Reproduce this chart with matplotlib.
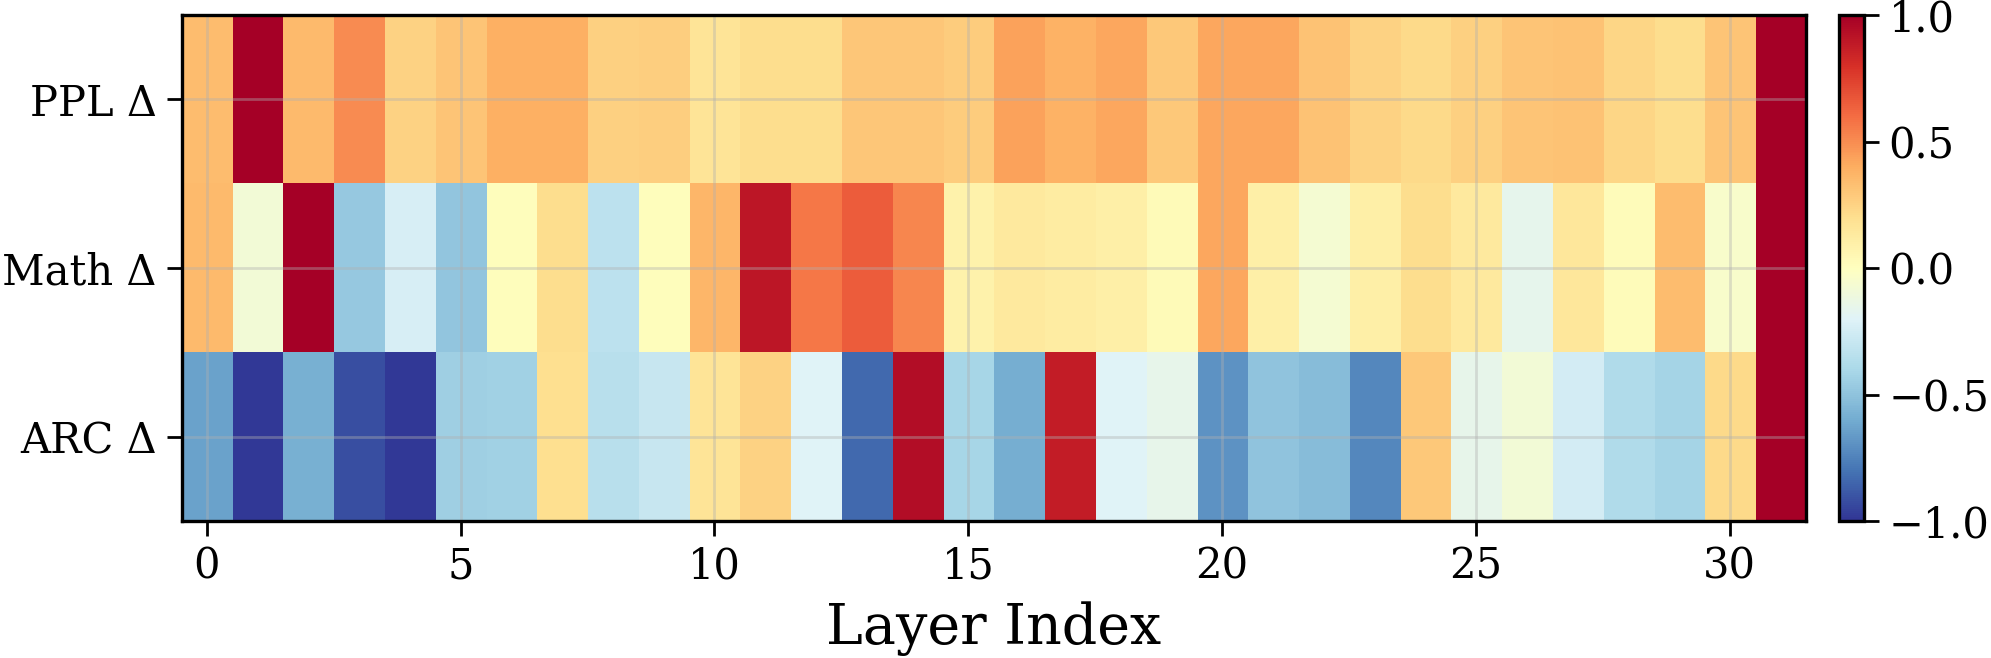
import matplotlib
matplotlib.use("Agg")
import matplotlib.pyplot as plt
import numpy as np

plt.rcParams['font.family'] = ['DejaVu Serif']
plt.rcParams['mathtext.fontset'] = 'dejavuserif'

row_labels = ["PPL Δ", "Math Δ", "ARC Δ"]
layers = list(range(32))

ppl_delta = [0.34, 1.0, 0.35, 0.50, 0.25, 0.31, 0.39, 0.39, 0.26, 0.27,
             0.17, 0.21, 0.21, 0.30, 0.30, 0.28, 0.43, 0.38, 0.42, 0.29,
             0.42, 0.42, 0.32, 0.25, 0.22, 0.26, 0.31, 0.32, 0.24, 0.21,
             0.31, 1.0]
math_delta = [0.35, -0.08, 1.0, -0.47, -0.23, -0.49, 0.01, 0.21, -0.33, 0.01,
              0.36, 0.90, 0.57, 0.65, 0.52, 0.08, 0.14, 0.12, 0.10, 0.03,
              0.42, 0.10, -0.07, 0.10, 0.21, 0.14, -0.16, 0.15, 0.02, 0.34,
              -0.045, 1.0]
arc_delta = [-0.64, -0.99, -0.58, -0.92, -0.99, -0.44, -0.43, 0.20, -0.35, -0.29,
             0.17, 0.25, -0.20, -0.83, 0.94, -0.41, -0.59, 0.88, -0.20, -0.15,
             -0.69, -0.50, -0.53, -0.73, 0.29, -0.15, -0.08, -0.25, -0.38, -0.42,
             0.22, 1.0]

data = np.array([ppl_delta, math_delta, arc_delta])

fig = plt.figure(figsize=(9.955, 3.29), dpi=200)
ax = fig.add_axes([0.0912, 0.208, 0.8157, 0.769])
cax = fig.add_axes([0.9237, 0.208, 0.0125, 0.769])

im = ax.imshow(data, cmap='RdYlBu_r', vmin=-1, vmax=1, aspect='auto',
               interpolation='nearest')
ax.set_yticks(range(len(row_labels)))
ax.set_yticklabels(row_labels)
ax.set_xticks(range(0, 32, 5))
ax.tick_params(axis='both', labelsize=15, length=5.4, width=1.0)
ax.set_xlabel("Layer Index", fontsize=20, labelpad=5)
ax.grid(True, color='#b0b0b0', alpha=0.4, linewidth=1.0)
for s in ax.spines.values():
    s.set_linewidth(1.2)

cb = fig.colorbar(im, cax=cax)
cb.set_ticks([-1.0, -0.5, 0.0, 0.5, 1.0])
cb.ax.tick_params(labelsize=15, length=5.4, width=1.0)
cb.outline.set_linewidth(1.2)

fig.savefig("out.png", dpi=200)
